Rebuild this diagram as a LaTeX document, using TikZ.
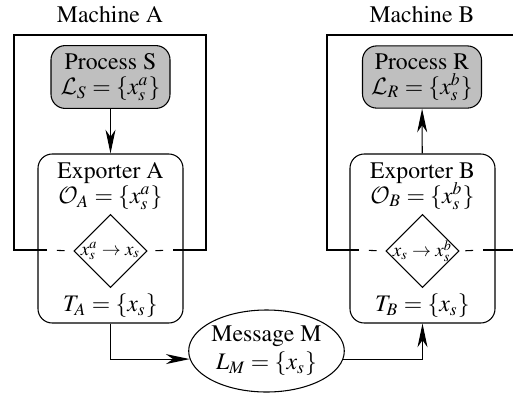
\documentclass[tikz,border=0pt]{standalone}
\usepackage[T1]{fontenc}
\usepackage{mathptmx}
\DeclareMathAlphabet{\mathcal}{OMS}{cmsy}{m}{n}
\usetikzlibrary{arrows.meta,shapes.geometric}
\newdimen\pxu \pxu=0.4215pt

\begin{document}
\begin{tikzpicture}
[x=\pxu,y=-\pxu,line width=0.45pt,
 procDecorate/.style={shape=rectangle,rounded corners=6pt,draw,fill=gray!50,
   minimum width=119\pxu,minimum height=60\pxu,align=center},%
 expDecorate/.style={shape=rectangle,rounded corners=6pt,draw,
   minimum width=145\pxu,minimum height=169\pxu},%
 mapDecorate/.style={shape=diamond,draw,inner sep=-1.5pt,
   minimum size=73\pxu,font=\footnotesize},%
 cutLine/.style={dash pattern=on 3.2pt off 4.2pt,dash phase=3.2pt},%
 flowArrow/.style={-{Stealth[length=10pt,width=4.2pt,inset=3pt]}}]
\useasboundingbox (0,0) rectangle (513,394);
%% machine labels
\node (machineA) at (110,15) {Machine A};
\node (machineB) at (422,15) {Machine B};
%% processes
\node (procS) at (110.5,77) [procDecorate] {Process S\\[-1.5pt] $\mathcal{L}_S=\{x_s^a\}$};
\node (procR) at (422,77) [procDecorate] {Process R\\[-1.5pt] $\mathcal{L}_R=\{x_s^b\}$};
%% exporters
\foreach \side/\x in {A/110.5, B/422.5}
{
  \node (exp\side) at (\x,238.5) [expDecorate] {};
}
\node (expAtext) at (110.5,186) [align=center] {Exporter A\\[-1.5pt] $\mathcal{O}_A=\{x_s^a\}$};
\node (expBtext) at (422.5,186) [align=center] {Exporter B\\[-1.5pt] $\mathcal{O}_B=\{x_s^b\}$};
\node (diaA) at (110.5,251) [mapDecorate] {$x_s^a\rightarrow x_s$};
\node (diaB) at (422.5,251) [mapDecorate] {$x_s\rightarrow x_s^b$};
\node (transA) at (110.5,306) {$T_A=\{x_s\}$};
\node (transB) at (422.5,306) {$T_B=\{x_s\}$};
%% message
\node (msgM) at (266.5,351) [shape=ellipse,draw,minimum width=147\pxu,
  minimum height=82\pxu,inner sep=0pt,align=center] {Message M\\ $L_M=\{x_s\}$};
%% machine boundaries
\draw (47,250) -- (14,250) -- (14,35) -- (206,35) -- (206,250) -- (173,250);
\draw[cutLine] (47,250) -- (diaA.west);
\draw[cutLine] (173,250) -- (diaA.east);
\draw (359,250) -- (327,250) -- (327,35) -- (530,35);
\draw (483,250) -- (530,250);
\draw[cutLine] (359,250) -- (diaB.west);
\draw[cutLine] (483,250) -- (diaB.east);
%% flow
\draw[flowArrow] (procS) -- (expA);
\draw[flowArrow] (expB) -- (procR);
\draw[flowArrow] (expA.south) |- (msgM.186);
\draw[flowArrow] (msgM.354) -| (expB.south);
\end{tikzpicture}
\end{document}
